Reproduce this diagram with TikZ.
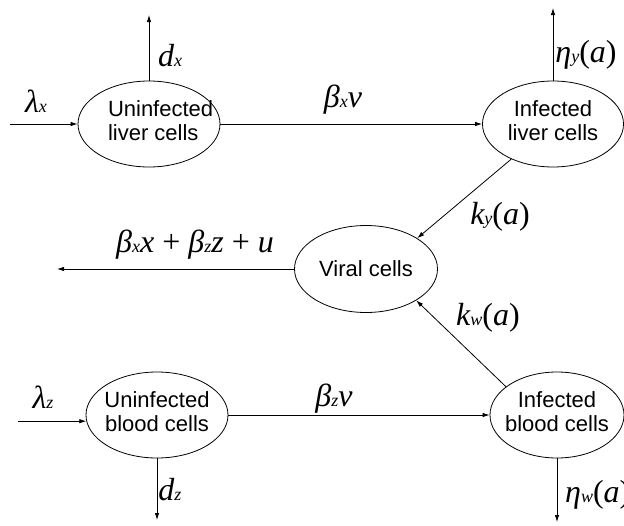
\documentclass[tikz,border=0pt]{standalone}
\usepackage{fontspec}
\setmainfont{Liberation Sans}
\newfontfamily\labfont{Liberation Serif}
\usetikzlibrary{shapes.geometric,arrows.meta}
\newcommand\sbs[1]{{\fontsize{18}{18}\selectfont #1}}
\newcommand\up[1]{{\upshape #1}}
\begin{document}
\begin{tikzpicture}[x=1pt,y=-1pt,
  cell/.style={draw, ellipse, inner sep=0pt, line width=0.8pt,
    font=\fontsize{22}{24}\selectfont},
  flow/.style={-{Latex[length=7pt,width=4.5pt]}, line width=0.8pt},
  lab/.style={font=\fontsize{32}{34}\selectfont\labfont\itshape, inner sep=0pt}]
\useasboundingbox (0,0) rectangle (624,525);
\clip (0,0) rectangle (624,525);

% cells
\node[cell, minimum width=142pt, minimum height=86pt] (ul) at (149,124)
  {\makebox[0pt][l]{\hspace*{-41pt}\begin{tabular}{@{}l@{}}Uninfected\\liver cells\end{tabular}}};
\node[cell, minimum width=141pt, minimum height=86pt] (il) at (553,124)
  {\makebox[0pt]{\begin{tabular}{@{}c@{}}Infected\\liver cells\end{tabular}}};
\node[cell, minimum width=143pt, minimum height=87pt] (vc) at (366,269)
  {\makebox[0pt]{Viral cells}};
\node[cell, minimum width=142pt, minimum height=86pt] (ub) at (157,415)
  {\makebox[0pt]{\begin{tabular}{@{}c@{}}Uninfected\\blood cells\end{tabular}}};
\node[cell, minimum width=134pt, minimum height=86pt] (ib) at (557,415)
  {\makebox[0pt]{\begin{tabular}{@{}c@{}}Infected\\blood cells\end{tabular}}};

% free ends
\coordinate (lxs) at (10,124);
\coordinate (lzs) at (18,0);
\coordinate (dxe) at (0,15);
\coordinate (nye) at (0,8);
\coordinate (vout) at (57,269);
\coordinate (dze) at (0,520);
\coordinate (nwe) at (0,522);

% connectors
\draw[flow] (lxs) -- (ul.west);
\draw[flow] (ul.north) -- (ul.north |- dxe);
\draw[flow] (ul.east) -- (il.west);
\draw[flow] (il.north) -- (il.north |- nye);
\draw[flow] (il) -- (vc.31);
\draw[flow] (ib.151) -- (vc.328);
\draw[flow] (vc.west) -- (vout);
\draw[flow] (lzs |- ub.185) -- (ub.185);
\draw[flow] (ub.east) -- (ib.west);
\draw[flow] (ub.south) -- (ub.south |- dze);
\draw[flow] (ib.south) -- (ib.south |- nwe);

% labels
\node[lab] (llx) at (36,101) {λ\sbs{x}};
\node[lab] (ldx) at (170,56) {d\sbs{x}};
\node[lab] (lbx) at (343,100) {β\sbs{x}v};
\node[lab] (lny) at (586,55) {η\sbs{y}\up{(}a\up{)}};
\node[lab] (lky) at (500,217) {k\sbs{y}\up{(}a\up{)}};
\node[lab] (lout) at (195,245) {β\sbs{x}x \up{+} β\sbs{z}z \up{+} u};
\node[lab] (lkw) at (488,318) {k\sbs{w}\up{(}a\up{)}};
\node[lab] (llz) at (43,397) {λ\sbs{z}};
\node[lab] (lbz) at (334,399) {β\sbs{z}v};
\node[lab] (ldz) at (170,490) {d\sbs{z}};
\node[lab, anchor=west] (lnw) at (565,495) {η\sbs{w}\up{(}a\up{)}};
\end{tikzpicture}
\end{document}
